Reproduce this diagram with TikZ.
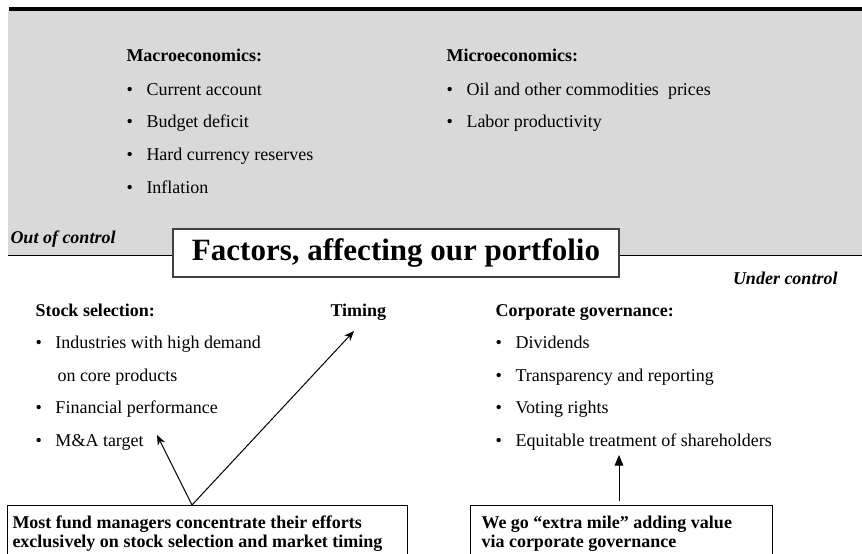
\documentclass[tikz,border=0pt]{standalone}
\usepackage{fontspec}
\setmainfont{Liberation Serif}
\usetikzlibrary{arrows.meta}
\tikzset{every picture/.style={line width=0.75pt}}
\definecolor{panelgray}{RGB}{217,217,217}
\definecolor{edgegray}{RGB}{64,64,64}
\newcommand{\itm}[1]{\makebox[15pt][l]{\textbullet}#1}

\begin{document}
\begin{tikzpicture}[x=0.75pt,y=0.75pt,yscale=-1,xscale=1,
  txt/.style={anchor=base west, inner sep=0pt, font=\fontsize{13.5}{14.25}\selectfont},
  head/.style={anchor=base west, inner sep=0pt, font=\fontsize{13.5}{14.25}\selectfont\bfseries},
  ctl/.style={inner sep=0pt, font=\fontsize{13.5}{14.25}\selectfont\bfseries\itshape},
  titlebox/.style={draw=edgegray, fill=white, line width=1.1pt, inner sep=0pt,
    minimum width=334.5pt, minimum height=36pt, font=\fontsize{23.25}{26}\selectfont\bfseries},
  notebox/.style={draw, anchor=north west, inner sep=0pt},
  notetext/.style={anchor=north west, inner sep=0pt, align=left, font=\fontsize{13.5}{14.25}\selectfont\bfseries},
  pointer/.style={-{Stealth[length=7.5pt,width=6pt]}},
  bigpointer/.style={-{Triangle[length=8pt,width=6.5pt]}, shorten <=3pt}]
\useasboundingbox (0,0) rectangle (862,553);

%Shape: top bar and grey panel
\fill (9,7) rectangle (862,11);
\fill[panelgray] (8,11) rectangle (862,255);
\draw (8,255) -- (862,255);

% Text Node
\node[head] (macro) at (126,61) {Macroeconomics:};
\node[txt] (macroa) at (126,95) {\itm{Current account}};
\node[txt] (macrob) at (126,127) {\itm{Budget deficit}};
\node[txt] (macroc) at (126,160) {\itm{Hard currency reserves}};
\node[txt] (macrod) at (126,193) {\itm{Inflation}};
% Text Node
\node[head] (micro) at (446,61) {Microeconomics:};
\node[txt] (microa) at (446,95) {\itm{Oil and other commodities\ \ prices}};
\node[txt] (microb) at (446,127) {\itm{Labor productivity}};

% Title
\node[titlebox] (title) at (396,253) {Factors, affecting our portfolio};
\node[ctl, anchor=base west] (outctl) at (10,243) {Out of control};
\node[ctl, anchor=base east] (inctl) at (838,284) {Under control};

% Text Node
\node[head] (stock) at (35,316) {Stock selection:};
\node[txt] (stocka) at (35,348) {\itm{Industries with high demand}};
\node[txt] (stockb) at (57,381) {on core products};
\node[txt] (stockc) at (35,413) {\itm{Financial performance}};
\node[txt] (stockd) at (35,446) {\itm{M\&A target}};
\node[head] (timing) at (330,316) {Timing};
% Text Node
\node[head] (gov) at (495,316) {Corporate governance:};
\node[txt] (gova) at (495,348) {\itm{Dividends}};
\node[txt] (govb) at (495,381) {\itm{Transparency and reporting}};
\node[txt] (govc) at (495,413) {\itm{Voting rights}};
\node[txt] (govd) at (495,446) {\itm{Equitable treatment of shareholders}};

% Bottom boxes
\node[notebox, minimum width=300pt, minimum height=60pt] (managers) at (7,505) {};
\node[notetext] (managerstext) at (12,515) {Most fund managers concentrate their efforts\\exclusively on stock selection and market timing};
\node[notebox, minimum width=226.5pt, minimum height=60pt] (extra) at (470,505) {};
\node[notetext] (extratext) at (481,515) {We go ``extra mile'' adding value\\via corporate governance};

% Arrows
\coordinate (apex) at (192,505);
\coordinate (matip) at (157,435);
\coordinate (timetip) at (354,331);
\coordinate (govtip) at (619,455);
\draw[pointer] (apex) -- (matip);
\draw[pointer] (apex) -- (timetip);
\draw[bigpointer] (govtip |- extra.north) -- (govtip);

\end{tikzpicture}
\end{document}
